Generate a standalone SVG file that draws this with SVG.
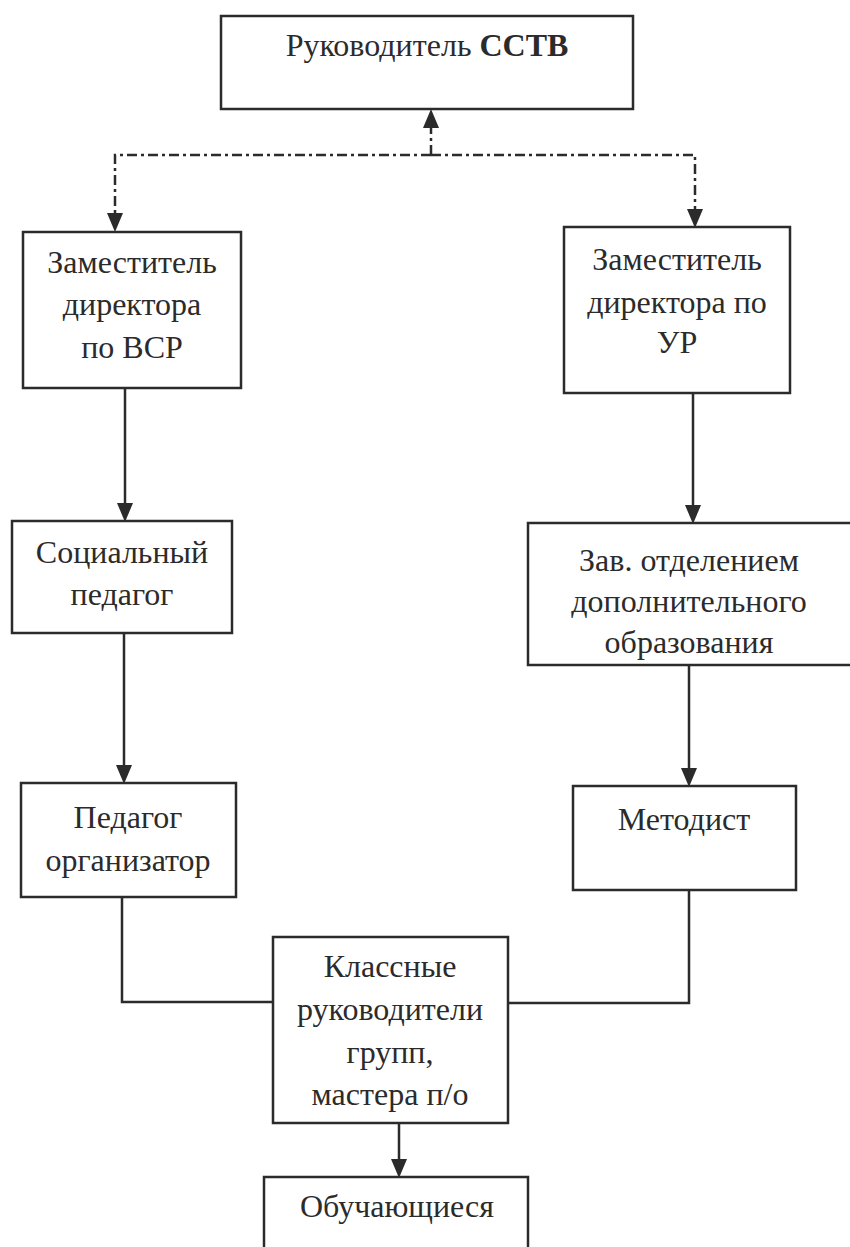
<svg xmlns="http://www.w3.org/2000/svg" width="850" height="1247" viewBox="0 0 850 1247">
<defs>
<style>
.box{fill:none;stroke:#2b2b2b;stroke-width:2.5}
.t{font-family:"Liberation Serif","Times New Roman","DejaVu Serif",serif;font-size:32px;fill:#2b2b2b;text-anchor:middle}
.b{font-weight:bold}
.c{fill:none;stroke:#2b2b2b;stroke-width:2.5}
.d{fill:none;stroke:#2b2b2b;stroke-width:2.5;stroke-dasharray:10 4 3 4}
.ah{fill:#2b2b2b}
</style>
</defs>
<rect width="850" height="1247" fill="#ffffff"/>
<g id="connectors">
<path class="d" d="M431,155 V126"/>
<polygon class="ah" points="431,109 423,128 439,128"/>
<path class="d" d="M431,155 H115 V214"/>
<polygon class="ah" points="115,232 107,213 123,213"/>
<path class="d" d="M431,155 H695 V210"/>
<polygon class="ah" points="695,228 687,209 703,209"/>
<path class="c" d="M125,388 V506"/>
<polygon class="ah" points="125,522 117,503 133,503"/>
<path class="c" d="M124,633 V768"/>
<polygon class="ah" points="124,784 116,765 132,765"/>
<path class="c" d="M693,393 V508"/>
<polygon class="ah" points="693,524 685,505 701,505"/>
<path class="c" d="M689,665 V771"/>
<polygon class="ah" points="689,787 681,768 697,768"/>
<path class="c" d="M122,897 V1002 H273"/>
<path class="c" d="M689,890 V1003 H508"/>
<path class="c" d="M399,1123 V1162"/>
<polygon class="ah" points="399,1178 391,1159 407,1159"/>
</g>
<g id="n-head">
<rect class="box" x="221" y="16" width="412" height="93"/>
<text class="t" x="427" y="56">Руководитель <tspan class="b">ССТВ</tspan></text>
</g>
<g id="n-zam-vsr">
<rect class="box" x="23" y="232" width="218" height="156"/>
<text class="t" x="132" y="273">Заместитель</text>
<text class="t" x="132" y="315">директора</text>
<text class="t" x="132" y="358">по ВСР</text>
</g>
<g id="n-zam-ur">
<rect class="box" x="564" y="227" width="226" height="166"/>
<text class="t" x="677" y="270">Заместитель</text>
<text class="t" x="677" y="313">директора по</text>
<text class="t" x="677" y="353">УР</text>
</g>
<g id="n-soc">
<rect class="box" x="12" y="521" width="220" height="112"/>
<text class="t" x="122" y="563">Социальный</text>
<text class="t" x="122" y="605">педагог</text>
</g>
<g id="n-zav">
<rect class="box" x="528" y="523" width="330" height="142"/>
<text class="t" x="689" y="571">Зав. отделением</text>
<text class="t" x="689" y="612">дополнительного</text>
<text class="t" x="689" y="653">образования</text>
</g>
<g id="n-ped-org">
<rect class="box" x="21" y="783" width="215" height="114"/>
<text class="t" x="128" y="828">Педагог</text>
<text class="t" x="128" y="871">организатор</text>
</g>
<g id="n-metod">
<rect class="box" x="573" y="786" width="223" height="104"/>
<text class="t" x="684" y="830">Методист</text>
</g>
<g id="n-klass">
<rect class="box" x="273" y="937" width="235" height="186"/>
<text class="t" x="390" y="977">Классные</text>
<text class="t" x="390" y="1020">руководители</text>
<text class="t" x="390" y="1063">групп,</text>
<text class="t" x="390" y="1105">мастера п/о</text>
</g>
<g id="n-obuch">
<rect class="box" x="264" y="1177" width="264" height="90"/>
<text class="t" x="397" y="1217">Обучающиеся</text>
</g>
</svg>
